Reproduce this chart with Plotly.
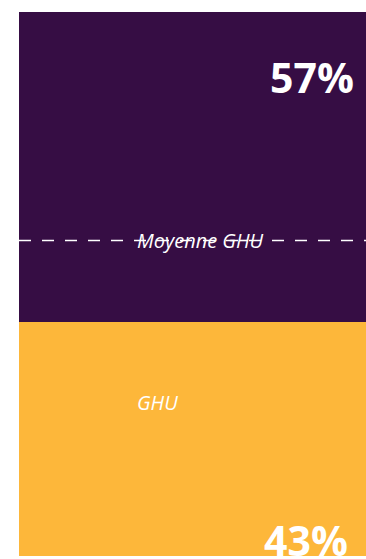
import plotly.graph_objects as go

# Share breakdown (100% stacked bar)
segments = ["GHU", "Autres"]
shares = [43, 57]
seg_colors = ["#FDB73A", "#360D44"]
average_ghu = 58

fig = go.Figure()
for name, val, col in zip(segments, shares, seg_colors):
    fig.add_trace(go.Bar(
        x=["Total"], y=[val], name=name,
        marker=dict(color=col, line=dict(width=0)),
        width=1, hoverinfo="skip",
    ))

# Average reference line
fig.add_shape(type="line", xref="paper", yref="y", x0=0, x1=1,
              y0=average_ghu, y1=average_ghu,
              line=dict(color="white", width=1.5, dash="12px,11px"))

font_lbl = "Open Sans, Noto Sans, sans-serif"
# Percentage labels
fig.add_annotation(xref="paper", yref="y", x=0.972, y=shares[0] + shares[1] * 0.79,
                   text=f"<b>{shares[1]}%</b>", showarrow=False,
                   xanchor="right", yanchor="middle",
                   font=dict(family=font_lbl, size=41, color="white"))
fig.add_annotation(xref="paper", yref="y", x=0.955, y=shares[0] * 0.07,
                   text=f"<b>{shares[0]}%</b>", showarrow=False,
                   xanchor="right", yanchor="middle",
                   font=dict(family=font_lbl, size=41, color="white"))
# Italic captions
fig.add_annotation(xref="paper", yref="y", x=0.522, y=average_ghu,
                   text="<i>Moyenne GHU</i>", showarrow=False,
                   xanchor="center", yanchor="middle",
                   font=dict(family=font_lbl, size=20, color="white"))
fig.add_annotation(xref="paper", yref="y", x=0.398, y=28.3,
                   text="<i>GHU</i>", showarrow=False,
                   xanchor="center", yanchor="middle",
                   font=dict(family=font_lbl, size=20, color="white"))

fig.update_layout(
    barmode="stack", bargap=0,
    width=366, height=559,
    margin=dict(l=19, r=0, t=12, b=3),
    paper_bgcolor="white", plot_bgcolor="white",
    showlegend=False,
    xaxis=dict(visible=False, range=[-0.5, 0.5]),
    yaxis=dict(visible=False, range=[0, 100]),
)

fig.write_html("out.html", config={"displayModeBar": False})
